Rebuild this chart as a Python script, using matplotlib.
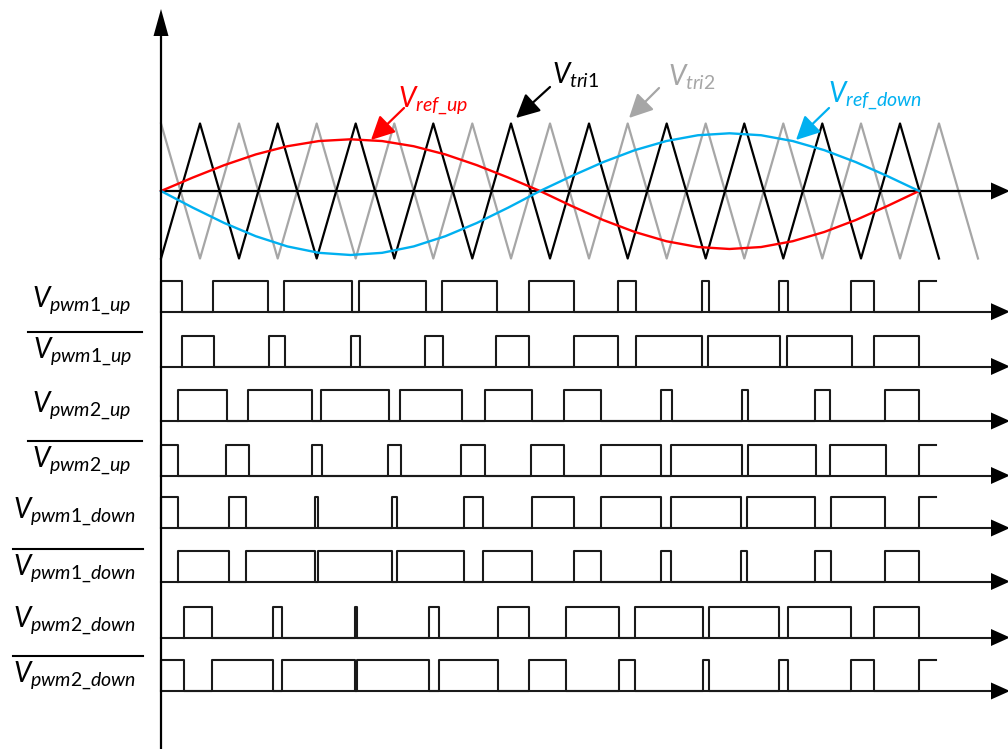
import numpy as np
import matplotlib.pyplot as plt
import matplotlib.transforms as mtransforms
from matplotlib.patches import Polygon

plt.rcParams['font.family'] = ['Lato', 'DejaVu Sans']
plt.rcParams['mathtext.fontset'] = 'custom'
plt.rcParams['mathtext.it'] = 'Lato:italic'
plt.rcParams['mathtext.rm'] = 'Lato'

# carriers: vertex times and normalised values (+1 peak, -1 trough)
tri1_t = [0, 39, 78, 116.7, 155.7, 194.7, 233.3, 272.3, 311.3, 350, 389,
          428, 466.7, 505.7, 544.7, 583.3, 622.3, 661.3, 700, 739, 778]
tri1_v = [-1, 1, -1, 1, -1, 1, -1, 1, -1, 1, -1,
          1, -1, 1, -1, 1, -1, 1, -1, 1, -1]
tri2_t = [0, 39, 78, 116.7, 155.7, 194.7, 233.3, 272.3, 311.3, 350, 389,
          428, 466.7, 505.7, 544.7, 583.3, 622.3, 661.3, 700, 739, 778, 817]
tri2_v = [1, -1, 1, -1, 1, -1, 1, -1, 1, -1, 1,
          -1, 1, -1, 1, -1, 1, -1, 1, -1, 1, -1]

# references (same time samples)
ref_t = [0, 31.6, 63.2, 94.8, 126.3, 157.9, 189.5, 221.1, 252.7, 284.3, 315.8,
         347.4, 379, 410.6, 442.2, 473.8, 505.3, 536.9, 568.5, 600.1, 631.7,
         663.3, 694.8, 726.4, 758]
ref_up = [0, 0.198, 0.383, 0.542, 0.663, 0.740, 0.766, 0.740, 0.663, 0.542, 0.383,
          0.198, 0, -0.222, -0.430, -0.607, -0.744, -0.830, -0.859, -0.830, -0.744,
          -0.607, -0.430, -0.222, 0]
ref_down = [0, -0.245, -0.474, -0.670, -0.821, -0.916, -0.948, -0.916, -0.821, -0.670, -0.474,
            -0.245, 0, 0.221, 0.428, 0.605, 0.740, 0.826, 0.855, 0.826, 0.740,
            0.605, 0.428, 0.221, 0]

# PWM edges: rise, fall, rise, fall ... (odd count -> stays high to T_END)
T_END = 774.7
pwm1_up = [0, 21.3, 52.3, 107.3, 123.3, 190.7, 198.3, 265, 281.3, 335.7, 368, 413,
           457.3, 475, 540.7, 548, 618.3, 626.7, 690, 713.3, 758.3]
pwm1_up_n = [21.3, 53, 108, 124, 190, 199, 264, 281.7, 335, 368.3, 413, 457.3,
             475, 540.7, 547.3, 619, 625.7, 690.7, 713.3, 758.3]
pwm2_up = [16.7, 65.7, 87.3, 151.3, 160, 228, 239, 300.7, 324, 370.7, 403.3, 439.7,
           500, 510.7, 580.7, 586.7, 654, 669, 724, 758.3]
pwm2_up_n = [0, 17.3, 65, 88, 150.7, 160.7, 227.3, 239.7, 300, 324, 370, 403.3,
             439.7, 500, 510, 580.7, 586.7, 654.7, 669, 724.7, 758.3]
pwm1_down = [0, 16.9, 68.3, 85.3, 153.8, 157.3, 231.3, 235.8, 302.7, 322.3, 370.7, 413.2,
             439.5, 500.3, 510.4, 580.4, 586.3, 654.4, 669.6, 724.2, 758]
pwm1_down_n = [16.9, 68.3, 85.3, 153.8, 157.3, 231.3, 235.8, 302.7, 322.3, 370.7,
               413.2, 439.5, 500.3, 510.4, 580.4, 586.3, 654.4, 669.6, 724.2, 758]
pwm2_down = [23, 50.8, 112, 120.6, 193.5, 195.5, 267.6, 278, 336.9, 367.9, 404.9, 457.5,
             474.3, 541.5, 547.8, 618.1, 627, 689.5, 713.4, 758]
pwm2_down_n = [0, 23, 50.8, 112, 120.6, 193.5, 195.5, 267.6, 278, 336.9, 367.9, 404.9,
               457.5, 474.3, 541.5, 547.8, 618.1, 627, 689.5, 713.4, 758]

rows = [pwm1_up, pwm1_up_n, pwm2_up, pwm2_up_n,
        pwm1_down, pwm1_down_n, pwm2_down, pwm2_down_n]
row_subs = ['pwm1\\_up', 'pwm1\\_up', 'pwm2\\_up', 'pwm2\\_up',
            'pwm1\\_down', 'pwm1\\_down', 'pwm2\\_down', 'pwm2\\_down']
row_bar = [False, True, False, True, False, True, False, True]

# layout (pixels)
W, H = 1008, 749
X0 = 161
AX0 = 191
AMP = 67.5
row_base = [311.7, 366.5, 421, 475.5, 528, 581.5, 637.5, 691]
PULSE_H = 31
label_x = [32, 33, 32, 32, 13, 13, 13, 13]
label_y = [307, 358, 412, 467, 518, 575, 627, 682]

RED = '#ff0000'
BLUE = '#00b0f0'
GRAY = '#a6a6a6'
INK = '#1a1a1a'

fig = plt.figure(figsize=(W / 100, H / 100), dpi=100)
ax = fig.add_axes([0, 0, 1, 1])
ax.set_xlim(-X0, W - X0)
ax.set_ylim(H, 0)
ax.axis('off')
pix = mtransforms.Affine2D().translate(-X0, 0) + ax.transData


def head(x, y, direction):
    if direction == 'right':
        pts = [(x, y), (x - 19, y - 8.5), (x - 19, y + 8.5)]
    else:
        pts = [(x, y), (x - 7.5, y + 27), (x + 7.5, y + 27)]
    ax.add_patch(Polygon(pts, closed=True, color='black', lw=0, transform=pix, zorder=6))


# carriers and references
ax.plot(tri2_t, AX0 - AMP * np.array(tri2_v), color=GRAY, lw=1.6, zorder=2)
ax.plot(tri1_t, AX0 - AMP * np.array(tri1_v), color='black', lw=1.6, zorder=3)
ax.plot([X0, 992], [AX0, AX0], color='black', lw=1.6, transform=pix, zorder=4)
head(1010, AX0, 'right')
ax.plot(ref_t, AX0 - AMP * np.array(ref_up), color=RED, lw=1.7, zorder=5)
ax.plot(ref_t, AX0 - AMP * np.array(ref_down), color=BLUE, lw=1.7, zorder=5)

# vertical axis
ax.plot([X0, X0], [H, 30], color='black', lw=1.6, transform=pix, zorder=6)
head(X0, 9, 'up')

# pwm rows
for edges, base in zip(rows, row_base):
    xs, ys = [], []
    for i in range(0, len(edges), 2):
        r = edges[i]
        if i + 1 < len(edges):
            f = edges[i + 1]
            xs += [r, r, f, f]
            ys += [0, 1, 1, 0]
        else:
            xs += [r, r, T_END]
            ys += [0, 1, 1]
    ax.plot(xs, base - PULSE_H * np.array(ys), color=INK, lw=1.5, zorder=4)
    ax.plot([X0, 992], [base, base], color=INK, lw=1.5, transform=pix, zorder=4)
    head(1010, base, 'right')

# row labels
for sub, bar, lx, ly in zip(row_subs, row_bar, label_x, label_y):
    ax.text(lx, ly, r'$V_{\mathit{%s}}$' % sub, fontsize=20, color='black',
            ha='left', va='baseline', transform=pix)
    if bar:
        if 'down' in sub:
            bx = (13, 143)
        else:
            bx = (28, 142)
        ax.plot(bx, [ly - 26.5, ly - 26.5], color='black', lw=1.5, transform=pix)

# curve labels with arrows
notes = [(r'$V_{\mathit{ref\_up}}$', RED, (398, 107), (404, 108), (371, 140)),
         (r'$V_{\mathit{tri1}}$', 'black', (552, 83), (550, 87), (516, 118)),
         (r'$V_{\mathit{tri2}}$', GRAY, (668, 85), (659, 88), (629, 118)),
         (r'$V_{\mathit{ref\_down}}$', BLUE, (828, 103), (829, 108), (796, 140))]
for txt, col, tpos, tail, tip in notes:
    ax.text(tpos[0], tpos[1], txt, fontsize=20, color=col, ha='left', va='baseline',
            transform=pix)
    ax.annotate('', xy=tip, xycoords=pix, xytext=tail, textcoords=pix,
                arrowprops=dict(arrowstyle='-|>,head_length=0.8,head_width=0.4',
                                color=col, lw=1.6, shrinkA=0, shrinkB=0,
                                mutation_scale=18))

fig.savefig('out.png', dpi=100)
